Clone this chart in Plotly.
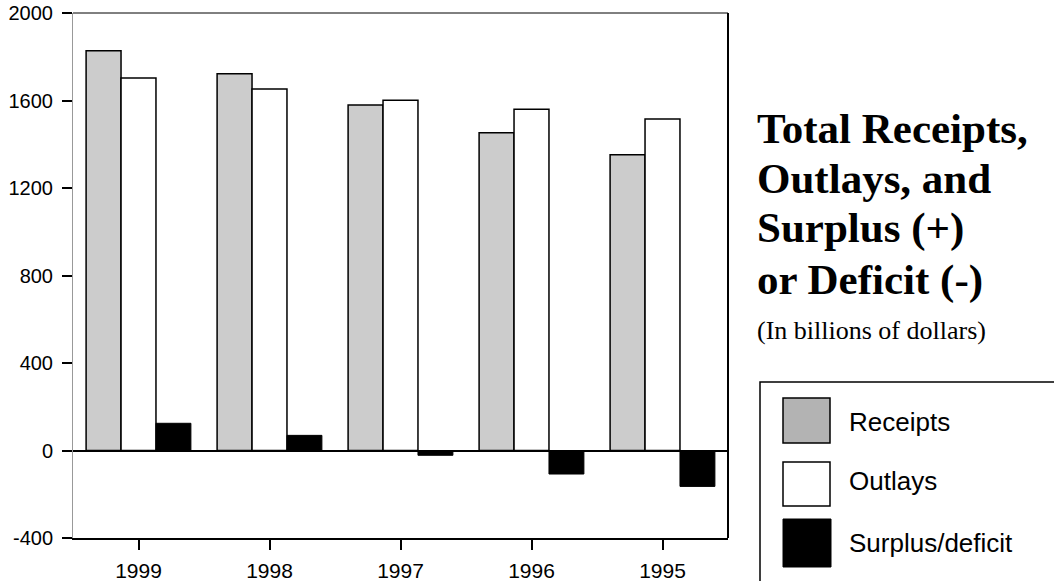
import plotly.graph_objects as go

years = ["1999", "1998", "1997", "1996", "1995"]
receipts = [1827.5, 1721.8, 1579.3, 1453.1, 1351.8]
outlays = [1703.0, 1652.6, 1601.2, 1560.5, 1515.8]
surplus = [124.4, 69.2, -21.9, -107.5, -164.0]
y_ticks = [-400, 0, 400, 800, 1200, 1600, 2000]
y_tick_text = ["-400", "0", "400", "800", "1200", "1600", "2000"]

W, H = 1054, 581
L, R, T, B = 73, 728, 13, 538


def px(x):
    return (x - L) / (R - L)


def py(y):
    return (B - y) / (B - T)


fig = go.Figure()
fig.add_trace(go.Bar(x=years, y=receipts, name="Receipts",
                     marker=dict(color="#cccccc", line=dict(color="#000000", width=1.5))))
fig.add_trace(go.Bar(x=years, y=outlays, name="Outlays",
                     marker=dict(color="#ffffff", line=dict(color="#000000", width=1.5))))
fig.add_trace(go.Bar(x=years, y=surplus, name="Surplus/deficit",
                     marker=dict(color="#000000", line=dict(color="#000000", width=1))))

shapes = [
    dict(type="line", xref="paper", yref="paper", x0=0, x1=1, y0=1, y1=1,
         line=dict(color="black", width=1)),
    dict(type="line", xref="paper", yref="paper", x0=1, x1=1, y0=0, y1=1,
         line=dict(color="black", width=2)),
    # legend box
    dict(type="rect", xref="paper", yref="paper", x0=px(760), x1=px(1070),
         y0=py(382), y1=py(600), line=dict(color="black", width=1.5), fillcolor="white"),
    dict(type="rect", xref="paper", yref="paper", x0=px(783), x1=px(830),
         y0=py(398), y1=py(443), line=dict(color="black", width=1.5), fillcolor="#b3b3b3"),
    dict(type="rect", xref="paper", yref="paper", x0=px(783), x1=px(830),
         y0=py(462), y1=py(506), line=dict(color="black", width=1.5), fillcolor="#ffffff"),
    dict(type="rect", xref="paper", yref="paper", x0=px(783), x1=px(831),
         y0=py(519), y1=py(567), line=dict(color="black", width=1), fillcolor="#000000"),
]

annotations = []
title_lines = [("<b>Total Receipts,</b>", 129), ("<b>Outlays, and</b>", 178),
               ("<b>Surplus (+)</b>", 228), ("<b>or Deficit (-)</b>", 280)]
for txt, yc in title_lines:
    annotations.append(dict(text=txt, xref="paper", yref="paper", x=px(755), y=py(yc),
                            xanchor="left", yanchor="middle", showarrow=False,
                            font=dict(family="Liberation Serif", size=43, color="black")))
annotations.append(dict(text="(In billions of dollars)", xref="paper", yref="paper",
                        x=px(755), y=py(331), xanchor="left", yanchor="middle", showarrow=False,
                        font=dict(family="Liberation Serif", size=26, color="black")))
for txt, yc in [("Receipts", 422), ("Outlays", 481), ("Surplus/deficit", 543)]:
    annotations.append(dict(text=txt, xref="paper", yref="paper", x=px(847), y=py(yc),
                            xanchor="left", yanchor="middle", showarrow=False,
                            font=dict(family="Liberation Sans", size=26, color="black")))

fig.update_layout(
    width=W, height=H,
    margin=dict(l=L, r=W - R, t=T, b=H - B, pad=0, autoexpand=False),
    paper_bgcolor="white", plot_bgcolor="white",
    barmode="group", bargap=0.2, bargroupgap=0,
    showlegend=False,
    font=dict(family="Liberation Sans", size=20, color="black"),
    shapes=shapes, annotations=annotations,
    xaxis=dict(showline=True, linecolor="black", linewidth=2, ticks="outside",
               ticklen=10, tickwidth=2, tickcolor="black", showgrid=False, automargin=False,
               tickfont=dict(size=21), ticklabelstandoff=3),
    yaxis=dict(range=[-400, 2000], tickvals=y_ticks, ticktext=y_tick_text,
               showline=True, linecolor="#999999",
               linewidth=1, ticks="outside", ticklen=10, tickwidth=1.5, tickcolor="black",
               showgrid=False, zeroline=True, zerolinecolor="black", zerolinewidth=2,
               automargin=False, ticklabeloverflow="allow",
               tickfont=dict(size=20), ticklabelstandoff=5),
)

fig.write_html("out.html", config={"displayModeBar": False},
               post_script="document.body.style.margin='0px';")
